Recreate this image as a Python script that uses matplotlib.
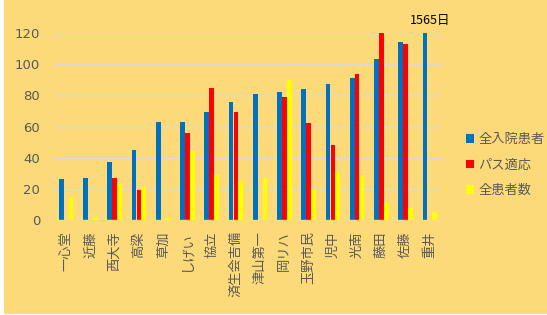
import numpy as np
import matplotlib.pyplot as plt
from matplotlib.patches import Rectangle

plt.rcParams['font.family'] = ['Noto Sans CJK JP', 'DejaVu Sans']

# ============================================================
# DADOS
# ============================================================

hospitais = ["一心堂", "近藤", "西大寺", "高梁", "草加", "しげい", "協立", "済生会吉備",
             "津山第一", "岡リハ", "玉野市民", "児中", "光南", "藤田", "佐藤", "重井"]

zen_nyuin = [26, 27, 37, 45, 63, 63, 69, 76, 81, 82, 84, 87, 91, 103, 114, 1565]
pasu_tekio = [0, 0, 27, 19, 0, 56, 85, 69, 0, 79, 62, 48, 94, 120, 113, 0]
zen_kanja = [15, 2, 23, 21, 1, 44, 29, 25, 27, 90, 19, 31, 29, 11, 8, 5]

series = ["全入院患者", "パス適応", "全患者数"]
cores = ["#0070C0", "#FF0000", "#FFFF00"]

GRAY = "#595959"

# ============================================================
# FIGURA
# ============================================================

fig = plt.figure(figsize=(5.47, 3.15), dpi=100, facecolor="white")
fig.patches.append(Rectangle((4 / 547, 1 / 315), 543 / 547, 314 / 315,
                             transform=fig.transFigure, facecolor="#FCDA7A",
                             edgecolor="none", zorder=-10))

ax = fig.add_axes([54 / 547, (315 - 220) / 315, 388 / 547, 187 / 315])
ax.set_facecolor("none")

x = np.arange(len(hospitais))
w = 0.205
for i, (vals, c, nome) in enumerate(zip([zen_nyuin, pasu_tekio, zen_kanja], cores, series)):
    ax.bar(x + (i - 1) * w, vals, width=w * 0.95, color=c, label=nome, zorder=3)

ax.set_ylim(0, 120)
ax.set_xlim(-0.5, len(hospitais) - 0.5)
ax.set_yticks(range(0, 121, 20))
ax.grid(axis="y", color="#D9D9D9", linewidth=1, zorder=0)
for s in ax.spines.values():
    s.set_visible(False)
ax.axhline(0, color="#D9D9D9", linewidth=1, zorder=4)

ax.set_xticks(x)
ax.set_xticklabels(hospitais, rotation=90, fontsize=9.5, color=GRAY)
ax.tick_params(axis="x", length=0, pad=8)
ax.tick_params(axis="y", length=0, pad=10, labelsize=9.5, labelcolor=GRAY)
for t in ax.get_yticklabels():
    t.set_family("DejaVu Sans")

ax.annotate(f"{zen_nyuin[-1]}日", xy=(x[-1], 120), xytext=(0, 4),
            textcoords="offset points", ha="center", va="bottom",
            fontsize=9, color="black", annotation_clip=False)

ax.legend(loc="center left", bbox_to_anchor=(466 / 547, (315 - 165) / 315),
          bbox_transform=fig.transFigure, frameon=False, fontsize=9.5,
          labelcolor=GRAY, handlelength=0.6, handleheight=0.6,
          handletextpad=0.35, labelspacing=0.95, borderpad=0, borderaxespad=0)

plt.savefig("out.png", dpi=100)
plt.close()
